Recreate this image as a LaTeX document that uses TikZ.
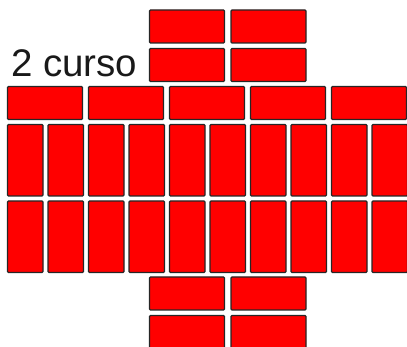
\documentclass[tikz,border=0pt]{standalone}
\usepackage{fontspec}
\setmainfont{Liberation Sans}
\begin{document}
\begin{tikzpicture}[x=1pt,y=-1pt,
  brick/.style={fill=red, draw=black!85, line width=1.1pt, rounded corners=1pt,
    inner sep=0pt, outer sep=0pt, anchor=north west},
  hbrick/.style={brick, minimum width=75pt, minimum height=33pt},
  vbrick/.style={brick, minimum width=35.5pt, minimum height=71.5pt},
  lbl/.style={inner sep=0pt, anchor=base west, font=\fontsize{38.5}{41}\selectfont, text=black!90}]
\useasboundingbox (0,0) rectangle (407,347);
% top stack
\node[hbrick] (t11) at (149.5,10) {};
\node[hbrick] (t12) at (231,10) {};
\node[hbrick] (t21) at (149.5,48.5) {};
\node[hbrick] (t22) at (231,48.5) {};
% horizontal row
\foreach \i in {0,...,4}{
  \node[hbrick] (h\i) at (7.5+81*\i,86.5) {};
}
% vertical rows
\foreach \i in {0,...,9}{
  \node[vbrick] (va\i) at (7.5+40.5*\i,124.5) {};
  \node[vbrick] (vb\i) at (7.5+40.5*\i,201) {};
}
% bottom stack
\node[hbrick] (b11) at (149.5,277) {};
\node[hbrick] (b12) at (231,277) {};
\node[hbrick] (b21) at (149.5,315.5) {};
\node[hbrick] (b22) at (231,315.5) {};
% label
\node[lbl] (label) at (11,77) {2 curso};
\end{tikzpicture}
\end{document}
